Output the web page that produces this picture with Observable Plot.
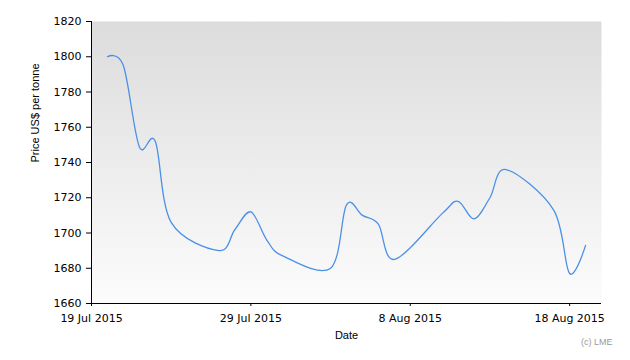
<!DOCTYPE html>
<html>
<head>
<meta charset="utf-8">
<script src="https://cdn.jsdelivr.net/npm/d3@7"></script>
<script src="https://cdn.jsdelivr.net/npm/@observablehq/plot@0.6"></script>
<style>
  html, body { margin: 0; padding: 0; background: #fff; }
  #chart svg { display: block; }
</style>
</head>
<body>
<div id="chart"></div>
<script>
// ---- data ----
const dates = [
  "2015-07-20","2015-07-21","2015-07-22","2015-07-23","2015-07-24",
  "2015-07-27","2015-07-28","2015-07-29","2015-07-30","2015-07-31",
  "2015-08-03","2015-08-04","2015-08-05","2015-08-06","2015-08-07",
  "2015-08-10","2015-08-11","2015-08-12","2015-08-13","2015-08-14",
  "2015-08-17","2015-08-18","2015-08-19"
];
const prices = [
  1800, 1795, 1749, 1752, 1706,
  1690, 1702, 1712, 1696, 1687,
  1680, 1716, 1710, 1705, 1685,
  1711, 1718, 1708, 1720, 1736,
  1713, 1677, 1693
];
const xDomainLabels = ["2015-07-19", "2015-08-20"];
const xTickLabels = ["2015-07-19", "2015-07-29", "2015-08-08", "2015-08-18"];
const yDomain = [1660, 1820];
const yTicks = [1660, 1680, 1700, 1720, 1740, 1760, 1780, 1800, 1820];
const yLabel = "Price US$ per tonne";
const xLabel = "Date";
const credit = "(c) LME";

const parse = d3.utcParse("%Y-%m-%d");
const data = dates.map((d, i) => ({date: parse(d), price: prices[i]}));
const xDomain = xDomainLabels.map(parse);
const xTicks = xTickLabels.map(parse);
const fmt = d3.utcFormat("%-d %b %Y");

const chart = Plot.plot({
  width: 630,
  height: 360,
  marginLeft: 91,
  marginRight: 29,
  marginTop: 21,
  marginBottom: 57,
  style: {fontFamily: "DejaVu Sans", fontSize: "11px", color: "#000", background: "#fff"},
  x: {type: "utc", domain: xDomain},
  y: {domain: yDomain},
  marks: [
    Plot.frame({fill: "url(#bgGrad)", stroke: "none"}),
    Plot.ruleY([yDomain[0]], {stroke: "#000", strokeWidth: 1}),
    Plot.ruleX([xDomain[0]], {stroke: "#000", strokeWidth: 1}),
    Plot.axisX({ticks: xTicks, tickFormat: fmt, tickSize: 3, tickPadding: 8, label: null, fontSize: 11}),
    Plot.axisY({ticks: yTicks, tickFormat: "d", tickSize: 5, tickPadding: 5, label: null, fontSize: 11}),
    Plot.line(data, {x: "date", y: "price", curve: "cardinal", stroke: "#4a90e8", strokeWidth: 1.3}),
    Plot.text([yLabel], {frameAnchor: "left", dx: -56, rotate: -90, fontFamily: "Liberation Sans", fontSize: 11, fill: "#000"}),
    Plot.text([xLabel], {frameAnchor: "bottom", dy: 35, fontFamily: "Liberation Sans", fontSize: 11, fill: "#000"}),
    Plot.text([credit], {frameAnchor: "bottom-right", dx: 11, dy: 41, textAnchor: "end", fontFamily: "Liberation Sans", fontSize: 9, fill: "#999"})
  ]
});

const ns = "http://www.w3.org/2000/svg";
const defs = document.createElementNS(ns, "defs");
const grad = document.createElementNS(ns, "linearGradient");
grad.setAttribute("id", "bgGrad");
grad.setAttribute("x1", "0"); grad.setAttribute("y1", "0");
grad.setAttribute("x2", "0"); grad.setAttribute("y2", "1");
[["0", "#dcdcdc"], ["1", "#fcfcfc"]].forEach(([o, c]) => {
  const s = document.createElementNS(ns, "stop");
  s.setAttribute("offset", o);
  s.setAttribute("stop-color", c);
  grad.appendChild(s);
});
defs.appendChild(grad);
chart.insertBefore(defs, chart.firstChild);

document.getElementById("chart").appendChild(chart);
</script>
</body>
</html>
